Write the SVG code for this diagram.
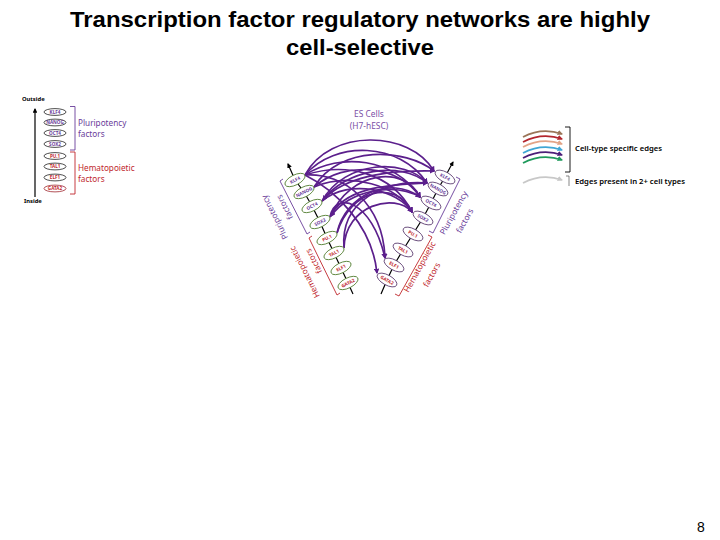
<svg xmlns="http://www.w3.org/2000/svg" width="720" height="540" viewBox="0 0 720 540">
<defs>
<style>
.title{font-family:"Liberation Sans",Arial,sans-serif;font-weight:bold;font-size:22px;fill:#000;text-anchor:middle}
.num{font-family:"Liberation Sans",Arial,sans-serif;font-size:14px;fill:#000}
.fig{font-family:"Noto Sans","Open Sans",sans-serif}
.lbl{font-family:"Noto Sans","Open Sans",sans-serif;font-size:4.6px;font-weight:bold;text-anchor:middle}
.pl{fill:#6a3d9a}
.hm{fill:#c0272d}
.side{font-family:"Noto Sans","Open Sans",sans-serif;font-size:8.2px;text-anchor:middle}
.arc{fill:none;stroke:#5b1f8c;stroke-width:1.7;marker-end:url(#mp)}
.ln{fill:none;stroke:#000;stroke-width:1.2}
.el{fill:#fff;stroke-width:0.8}
.lg{fill:none;stroke-width:1.8}
</style>
<marker id="mp" viewBox="0 0 10 10" refX="8" refY="5" markerWidth="3.2" markerHeight="3.2" orient="auto"><path d="M0,0 L10,5 L0,10 z" fill="#5b1f8c"/></marker>
<marker id="mk" viewBox="0 0 10 10" refX="8" refY="5" markerWidth="4" markerHeight="4" orient="auto"><path d="M0,0 L10,5 L0,10 z" fill="#000"/></marker>
<marker id="mb" viewBox="0 0 10 10" refX="8" refY="5" markerWidth="3" markerHeight="3" orient="auto"><path d="M0,0 L10,5 L0,10 z" fill="#9a7558"/></marker>
<marker id="mr" viewBox="0 0 10 10" refX="8" refY="5" markerWidth="3" markerHeight="3" orient="auto"><path d="M0,0 L10,5 L0,10 z" fill="#b3262e"/></marker>
<marker id="mpe" viewBox="0 0 10 10" refX="8" refY="5" markerWidth="3" markerHeight="3" orient="auto"><path d="M0,0 L10,5 L0,10 z" fill="#e2a487"/></marker>
<marker id="mc" viewBox="0 0 10 10" refX="8" refY="5" markerWidth="3" markerHeight="3" orient="auto"><path d="M0,0 L10,5 L0,10 z" fill="#3fa6d4"/></marker>
<marker id="mu" viewBox="0 0 10 10" refX="8" refY="5" markerWidth="3" markerHeight="3" orient="auto"><path d="M0,0 L10,5 L0,10 z" fill="#4b1f78"/></marker>
<marker id="mg" viewBox="0 0 10 10" refX="8" refY="5" markerWidth="3" markerHeight="3" orient="auto"><path d="M0,0 L10,5 L0,10 z" fill="#1f9a5c"/></marker>
<marker id="mgr" viewBox="0 0 10 10" refX="8" refY="5" markerWidth="3" markerHeight="3" orient="auto"><path d="M0,0 L10,5 L0,10 z" fill="#c8c8c8"/></marker>
</defs>
<rect width="720" height="540" fill="#fff"/>

<g id="title">
<text class="title" x="360" y="27" textLength="580" lengthAdjust="spacingAndGlyphs">Transcription factor regulatory networks are highly</text>
<text class="title" x="360" y="55" textLength="148" lengthAdjust="spacingAndGlyphs">cell-selective</text>
</g>
<text class="num" x="697" y="532">8</text>

<!-- left legend -->
<g id="legend-left">
<text class="fig" x="22" y="101" font-size="5.8" font-weight="bold">Outside</text>
<line class="ln" x1="35" y1="197" x2="35" y2="109" marker-end="url(#mk)"/>
<g stroke="#222">
<ellipse class="el" cx="55" cy="112" rx="11" ry="3.4"/>
<ellipse class="el" cx="55" cy="122.5" rx="11" ry="3.4" stroke-width="1.4"/>
<ellipse class="el" cx="55" cy="133" rx="11" ry="3.4"/>
<ellipse class="el" cx="55" cy="144" rx="11" ry="3.4"/>
<ellipse class="el" cx="55" cy="156" rx="11" ry="3.4"/>
<ellipse class="el" cx="55" cy="166.5" rx="11" ry="3.4"/>
<ellipse class="el" cx="55" cy="177.5" rx="11" ry="3.4"/>
<ellipse class="el" cx="55" cy="188.5" rx="11" ry="3.4" stroke="#a0262d"/>
</g>
<text class="lbl pl" x="55" y="113.7">KLF4</text>
<text class="lbl pl" x="55" y="124.2">NANOG</text>
<text class="lbl pl" x="55" y="134.7">OCT4</text>
<text class="lbl pl" x="55" y="145.7">SOX2</text>
<text class="lbl hm" x="55" y="157.7">PU.1</text>
<text class="lbl hm" x="55" y="168.2">TAL1</text>
<text class="lbl hm" x="55" y="179.2">ELF1</text>
<text class="lbl hm" x="55" y="190.2">GATA2</text>
<path d="M70,106.5 H75 V150 H70" fill="none" stroke="#6a3d9a" stroke-width="0.9"/>
<path d="M70,152 H75 V194 H70" fill="none" stroke="#c0272d" stroke-width="0.9"/>
<text class="fig pl" x="78" y="126" font-size="8.2">Pluripotency</text>
<text class="fig pl" x="78" y="137" font-size="8.2">factors</text>
<text class="fig hm" x="78" y="171" font-size="8.2">Hematopoietic</text>
<text class="fig hm" x="78" y="182" font-size="8.2">factors</text>
<text class="fig" x="24" y="203" font-size="5.8" font-weight="bold">Inside</text>
</g>

<!-- center heading -->
<g id="es-label" class="fig" fill="#7b4fa6" font-size="8.4" text-anchor="middle">
<text x="369" y="117">ES Cells</text>
<text x="369" y="129">(H7-hESC)</text>
</g>

<!-- chains (backbones) -->
<g id="chains">
<polyline class="ln" points="353,294 348,283 341,268 334,253 327,238 320,222 312,206 304,192 295,180 288,164" marker-end="url(#mk)"/>
<polyline class="ln" points="381,294 387,280 394,265 403,250 413,234 423,218 431,203 438,189 445,177 453,162" marker-end="url(#mk)"/>
</g>

<!-- brackets -->
<g id="brackets" fill="none" stroke-width="0.9">
<path d="M283,179 L280,181 L307,234 L310,232" stroke="#6a3d9a"/>
<path d="M312,236 L309,238 L337,295 L340,293" stroke="#c0272d"/>
<path d="M456,177 L460,179 L433,233 L429,231" stroke="#6a3d9a"/>
<path d="M428,235 L432,237 L399,296 L395,294" stroke="#c0272d"/>
</g>

<!-- side labels -->
<g id="left-side-labels">
<text class="side pl" transform="translate(275,217) rotate(-117)" y="2.5">Pluripotency</text>
<text class="side pl" transform="translate(285,207) rotate(-117)" y="2.5">factors</text>
<text class="side hm" transform="translate(305,272) rotate(-117)" y="2.5">Hematopoietic</text>
<text class="side hm" transform="translate(314,261) rotate(-117)" y="2.5">factors</text>
</g>
<g id="right-side-labels">
<text class="side pl" transform="translate(454,213) rotate(-61)" y="2.5">Pluripotency</text>
<text class="side pl" transform="translate(465,221) rotate(-61)" y="2.5">factors</text>
<text class="side hm" transform="translate(420,267) rotate(-61)" y="2.5">Hematopoietic</text>
<text class="side hm" transform="translate(432,275) rotate(-61)" y="2.5">factors</text>
</g>

<!-- connectors -->
<g id="connectors">
<path class="arc" d="M305,175 C330,128 410,130 434,171"/>
<path class="arc" d="M305,175 C335,140 400,142 427,183"/>
<path class="arc" d="M305,175 C340,152 395,158 420,197"/>
<path class="arc" d="M305,175 C345,162 392,172 412,212"/>
<path class="arc" d="M305,175 C345,172 383,205 385,258"/>
<path class="arc" d="M305,175 C335,190 372,225 377,273"/>
<path class="arc" d="M314,187 C340,145 405,148 434,171"/>
<path class="arc" d="M314,187 C345,160 400,165 420,197"/>
<path class="arc" d="M314,187 C350,172 398,185 412,212"/>
<path class="arc" d="M322,201 C345,160 405,158 427,183"/>
<path class="arc" d="M322,201 C350,178 398,190 412,212"/>
<path class="arc" d="M322,201 C345,175 390,170 434,171"/>
<path class="arc" d="M330,217 C350,170 405,165 420,197"/>
<path class="arc" d="M330,217 C345,185 395,185 427,183"/>
<path class="arc" d="M337,233 C350,190 395,178 412,212"/>
<path class="arc" d="M337,233 C345,195 390,175 420,197"/>
<path class="arc" d="M344,248 C345,205 395,192 412,212"/>
<path class="arc" d="M344,248 C340,200 385,180 427,183"/>
<path class="arc" d="M330,217 C335,190 372,200 385,258"/>
<path class="arc" d="M427,183 C400,160 345,170 323,200"/>
<path class="arc" d="M420,197 C395,182 350,190 331,216"/>
</g>

<!-- left nodes -->
<g id="left-nodes">
<g id="L-KLF4" transform="translate(295,180) rotate(-27)"><ellipse class="el" rx="11" ry="5" stroke="#4d7a2b"/><text class="lbl pl" y="1.7">KLF4</text></g>
<g id="L-NANOG" transform="translate(304,192) rotate(-27)"><ellipse class="el" rx="11" ry="5" stroke="#4d7a2b"/><text class="lbl pl" y="1.7">NANOG</text></g>
<g id="L-OCT4" transform="translate(312,206) rotate(-27)"><ellipse class="el" rx="11" ry="5" stroke="#4d7a2b"/><text class="lbl pl" y="1.7">OCT4</text></g>
<g id="L-SOX2" transform="translate(320,222) rotate(-27)"><ellipse class="el" rx="11" ry="5" stroke="#4d7a2b"/><text class="lbl pl" y="1.7">SOX2</text></g>
<g id="L-PU1" transform="translate(327,238) rotate(-27)"><ellipse class="el" rx="11" ry="5" stroke="#4d7a2b"/><text class="lbl hm" y="1.7">PU.1</text></g>
<g id="L-TAL1" transform="translate(334,253) rotate(-27)"><ellipse class="el" rx="11" ry="5" stroke="#4d7a2b"/><text class="lbl hm" y="1.7">TAL1</text></g>
<g id="L-ELF1" transform="translate(341,268) rotate(-27)"><ellipse class="el" rx="11" ry="5" stroke="#4d7a2b"/><text class="lbl hm" y="1.7">ELF1</text></g>
<g id="L-GATA2" transform="translate(348,283) rotate(-27)"><ellipse class="el" rx="11" ry="5" stroke="#4d7a2b"/><text class="lbl hm" y="1.7">GATA2</text></g>
</g>

<!-- right nodes -->
<g id="right-nodes">
<g id="R-KLF4" transform="translate(445,177) rotate(29)"><ellipse class="el" rx="11" ry="5" stroke="#5a3a6e"/><text class="lbl pl" y="1.7">KLF4</text></g>
<g id="R-NANOG" transform="translate(438,189) rotate(29)"><ellipse class="el" rx="11" ry="5" stroke="#5a3a6e"/><text class="lbl pl" y="1.7">NANOG</text></g>
<g id="R-OCT4" transform="translate(431,203) rotate(29)"><ellipse class="el" rx="11" ry="5" stroke="#5a3a6e"/><text class="lbl pl" y="1.7">OCT4</text></g>
<g id="R-SOX2" transform="translate(423,218) rotate(29)"><ellipse class="el" rx="11" ry="5" stroke="#5a3a6e"/><text class="lbl pl" y="1.7">SOX2</text></g>
<g id="R-PU1" transform="translate(413,234) rotate(29)"><ellipse class="el" rx="11" ry="5" stroke="#5a3a6e"/><text class="lbl hm" y="1.7">PU.1</text></g>
<g id="R-TAL1" transform="translate(403,250) rotate(29)"><ellipse class="el" rx="11" ry="5" stroke="#5a3a6e"/><text class="lbl hm" y="1.7">TAL1</text></g>
<g id="R-ELF1" transform="translate(394,265) rotate(29)"><ellipse class="el" rx="11" ry="5" stroke="#5a3a6e"/><text class="lbl hm" y="1.7">ELF1</text></g>
<g id="R-GATA2" transform="translate(387,280) rotate(29)"><ellipse class="el" rx="11" ry="5" stroke="#5a3a6e"/><text class="lbl hm" y="1.7">GATA2</text></g>
</g>

<!-- right legend -->
<g id="legend-right">
<path class="lg" stroke="#9a7558" d="M523,137 Q542,127 562,134" marker-end="url(#mb)"/>
<path class="lg" stroke="#b3262e" d="M523,142 Q542,132 562,139" marker-end="url(#mr)"/>
<path class="lg" stroke="#e2a487" d="M523,147 Q542,137 562,144" marker-end="url(#mpe)"/>
<path class="lg" stroke="#3fa6d4" d="M523,153 Q542,143 562,150" marker-end="url(#mc)"/>
<path class="lg" stroke="#4b1f78" d="M523,158 Q542,148 562,155" marker-end="url(#mu)"/>
<path class="lg" stroke="#1f9a5c" d="M523,163 Q542,153 562,160" marker-end="url(#mg)"/>
<path class="lg" stroke="#c8c8c8" d="M523,183 Q542,173 562,180" marker-end="url(#mgr)"/>
<path d="M565,127 H570 V172 H565" fill="none" stroke="#000" stroke-width="0.9"/>
<path d="M566,176 H569 V186" fill="none" stroke="#555" stroke-width="0.7"/>
<text class="fig" x="575" y="151" font-size="6.6" font-weight="600" textLength="87" lengthAdjust="spacingAndGlyphs">Cell-type specific edges</text>
<text class="fig" x="575" y="184" font-size="6.6" font-weight="600" textLength="110" lengthAdjust="spacingAndGlyphs">Edges present in 2+ cell types</text>
</g>
</svg>
